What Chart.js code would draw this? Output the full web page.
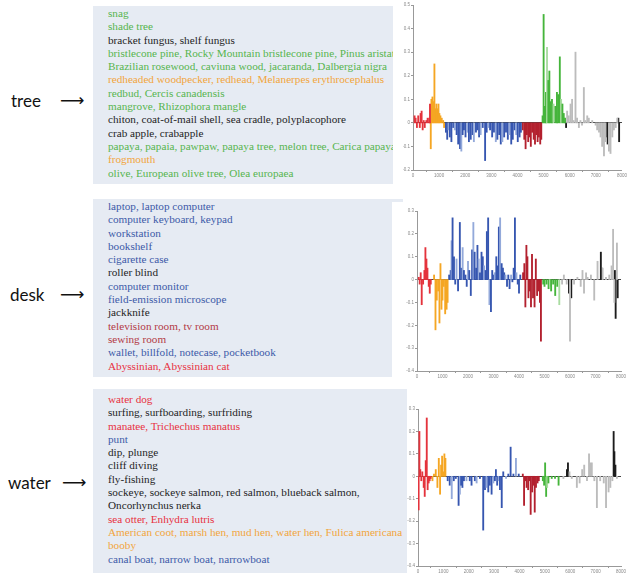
<!DOCTYPE html>
<html>
<head>
<meta charset="utf-8">
<script src="https://cdn.jsdelivr.net/npm/chart.js@4"></script>
<style>
    html, body { margin: 0; padding: 0; background: #fff; }
    #page { position: relative; width: 628px; height: 573px; overflow: hidden; }
    .word { position: absolute; font-family: Lato, "Open Sans", sans-serif; font-size: 17px; color: #111; line-height: 20px; }
    .arrow { position: absolute; font-family: "DejaVu Sans", sans-serif; font-size: 17px; color: #111; line-height: 20px; }
    .box { position: absolute; background: #e6ebf3; overflow: hidden; white-space: nowrap;
           font-family: "Liberation Serif", "Times New Roman", serif; font-size: 11.2px; line-height: 13.3px; }
    .box div { padding-left: 15px; }
    canvas { position: absolute; background: #fff; }
</style>
</head>
<body>
<div id="page">
    <div class="word" style="left:11px; top:91px;">tree</div>
    <div class="arrow" style="left:60px; top:90px;">⟶</div>
    <div class="word" style="left:10px; top:285px;">desk</div>
    <div class="arrow" style="left:60px; top:284px;">⟶</div>
    <div class="word" style="left:8px; top:473px;">water</div>
    <div class="arrow" style="left:62px; top:472px;">⟶</div>

    <div class="box" id="box-tree" style="left:93px; top:6px; width:300px; height:177px; padding-top:1px;"></div>
    <div class="box" id="box-desk" style="left:93px; top:199px; width:310px; height:177px; padding-top:1px;"></div>
    <div class="box" id="box-water" style="left:93px; top:389px; width:314px; height:184px; padding-top:4px;"></div>

    <canvas id="chart-tree" width="225" height="195" style="left:403px; top:0px;"></canvas>
    <canvas id="chart-desk" width="236" height="183" style="left:392px; top:202px;"></canvas>
    <canvas id="chart-water" width="221" height="184" style="left:407px; top:389px;"></canvas>
</div>

<script>
// term lists, each entry is [text, group]
const treeTerms = [
    ['snag', 'green'], ['shade tree', 'green'], ['bracket fungus, shelf fungus', 'black'],
    ['bristlecone pine, Rocky Mountain bristlecone pine, Pinus aristata', 'green'],
    ['Brazilian rosewood, caviuna wood, jacaranda, Dalbergia nigra', 'green'],
    ['redheaded woodpecker, redhead, Melanerpes erythrocephalus', 'orange'],
    ['redbud, Cercis canadensis', 'green'], ['mangrove, Rhizophora mangle', 'green'],
    ['chiton, coat-of-mail shell, sea cradle, polyplacophore', 'black'],
    ['crab apple, crabapple', 'black'],
    ['papaya, papaia, pawpaw, papaya tree, melon tree, Carica papaya', 'green'],
    ['frogmouth', 'orange'], ['olive, European olive tree, Olea europaea', 'green']
];
const deskTerms = [
    ['laptop, laptop computer', 'blue'], ['computer keyboard, keypad', 'blue'], ['workstation', 'blue'],
    ['bookshelf', 'blue'], ['cigarette case', 'blue'], ['roller blind', 'black'],
    ['computer monitor', 'blue'], ['field-emission microscope', 'blue'], ['jackknife', 'black'],
    ['television room, tv room', 'darkred'], ['sewing room', 'darkred'],
    ['wallet, billfold, notecase, pocketbook', 'blue'], ['Abyssinian, Abyssinian cat', 'red']
];
const waterTerms = [
    ['water dog', 'red'], ['surfing, surfboarding, surfriding', 'black'],
    ['manatee, Trichechus manatus', 'red'], ['punt', 'blue'], ['dip, plunge', 'black'],
    ['cliff diving', 'black'], ['fly-fishing', 'black'],
    ['sockeye, sockeye salmon, red salmon, blueback salmon,', 'black'], ['Oncorhynchus nerka', 'black'],
    ['sea otter, Enhydra lutris', 'red'],
    ['American coot, marsh hen, mud hen, water hen, Fulica americana', 'orange'],
    ['booby', 'orange'], ['canal boat, narrow boat, narrowboat', 'blue']
];

// bar data per colour group: [position, value]
const treeRed = [[60,0.03],[100,0.02],[150,-0.02],[200,0.03],[260,-0.02],[290,0.04],[330,0.05],[370,-0.03],[410,0.01],[450,-0.02],[510,0.01],[560,0.02],[620,0.02],[650,0.08]];
const treeOrange = [[680,-0.11],[705,0.10],[745,0.11],[780,0.09],[820,0.25],[860,0.06],[895,0.08],[935,0.06],[975,0.08],[1010,0.04],[1050,0.03],[1100,0.02],[1155,0.01],[1190,-0.02]];
const treeBlue = [[1260,-0.04],[1310,-0.07],[1360,-0.03],[1410,-0.06],[1470,-0.08],[1540,-0.02],[1600,-0.03],[1670,-0.05],[1730,-0.09],[1800,-0.11],[1850,-0.12],[1900,-0.05],[1950,-0.03],[2010,-0.06],[2080,-0.04],[2140,-0.08],[2210,-0.07],[2280,-0.05],[2330,-0.08],[2410,-0.04],[2460,-0.03],[2530,-0.06],[2590,-0.05],[2670,-0.02],[2760,-0.16],[2820,-0.04],[2890,-0.02],[2950,-0.03],[3030,-0.06],[3100,-0.04],[3170,-0.08],[3230,-0.07],[3300,-0.05],[3360,-0.09],[3420,-0.08],[3490,-0.06],[3560,-0.04],[3630,-0.07],[3690,-0.05],[3760,-0.09],[3820,-0.07],[3890,-0.03],[3950,-0.05],[4010,-0.08],[4080,-0.06],[4130,-0.04]];
const treeDarkRed = [[4200,-0.03],[4260,-0.07],[4310,-0.11],[4360,-0.05],[4410,-0.08],[4460,-0.06],[4510,-0.10],[4560,-0.04],[4620,-0.07],[4670,-0.09],[4720,-0.05],[4770,-0.08],[4820,-0.06],[4870,-0.09],[4910,-0.07]];
const treeGreen = [[4960,0.03],[5000,0.46],[5050,0.07],[5090,0.13],[5130,0.32],[5180,0.18],[5220,0.22],[5260,0.09],[5320,0.10],[5380,0.08],[5450,0.07],[5510,0.13],[5560,0.12],[5620,0.28],[5670,0.10],[5720,0.08],[5770,0.04],[5820,0.02]];
const treeGray = [[5900,0.05],[5960,0.03],[6030,0.08],[6090,0.10],[6150,0.01],[6220,0.30],[6280,0.02],[6350,-0.02],[6410,0.01],[6470,-0.01],[6540,0.15],[6600,0.01],[6670,0.03],[6730,0.02],[6860,0.01],[6990,-0.01],[7050,-0.03],[7120,-0.04],[7180,-0.06],[7240,-0.10],[7310,-0.14],[7370,-0.08],[7500,-0.12],[7560,-0.13],[7630,-0.06],[7690,-0.03],[7760,-0.02],[7820,0.02]];
const treeBlack = [[5860,-0.02],[7410,-0.06],[7450,-0.09],[7860,0.02],[7890,-0.08]];

const deskRed = [[70,0.01],[105,-0.02],[145,0.03],[185,-0.11],[240,-0.02],[290,0.04],[330,0.14],[370,0.09],[410,0.05],[460,-0.03],[500,-0.06],[540,-0.02]];
const deskOrange = [[670,0.02],[725,-0.22],[775,-0.09],[830,-0.05],[880,-0.19],[920,0.07],[960,-0.13],[1000,-0.09],[1050,-0.03],[1105,-0.15],[1160,-0.13],[1200,-0.10]];
const deskBlue = [[1260,0.02],[1320,0.04],[1355,0.17],[1395,0.27],[1450,0.10],[1500,-0.02],[1550,0.09],[1610,-0.05],[1680,0.25],[1740,0.05],[1790,0.14],[1840,0.04],[1900,0.02],[1950,-0.03],[2000,0.08],[2050,0.04],[2110,-0.07],[2160,0.13],[2210,0.25],[2260,0.12],[2320,0.05],[2370,0.15],[2420,0.09],[2470,0.03],[2530,0.12],[2580,0.10],[2630,0.06],[2690,0.04],[2740,0.21],[2790,0.27],[2840,-0.11],[2900,-0.14],[2950,0.04],[3000,0.02],[3050,0.03],[3110,0.10],[3160,0.06],[3210,0.23],[3260,0.27],[3320,0.07],[3370,0.05],[3420,0.03],[3470,0.02],[3530,-0.03],[3580,0.02],[3630,-0.04],[3690,0.02],[3740,-0.01],[3790,0.05],[3840,0.27],[3900,0.03],[3950,-0.02],[4000,-0.06],[4050,0.02]];
const deskDarkRed = [[4160,0.03],[4210,0.07],[4250,-0.12],[4290,0.15],[4330,0.10],[4370,-0.08],[4420,-0.05],[4470,-0.12],[4510,0.11],[4550,-0.08],[4610,-0.12],[4660,0.09],[4710,-0.07],[4760,-0.05],[4820,-0.10],[4860,-0.27]];
const deskGreen = [[4950,-0.02],[5000,-0.03],[5080,-0.02],[5160,-0.04],[5210,-0.03],[5260,-0.05],[5340,-0.02],[5420,-0.07],[5500,-0.03],[5580,-0.11]];
const deskGray = [[5690,-0.02],[5760,0.02],[5870,-0.02],[6000,-0.27],[6160,-0.02],[6290,0.01],[6420,-0.03],[6490,0.04],[6550,-0.06],[6630,0.03],[6690,0.01],[6820,0.02],[6950,-0.09],[7080,0.08],[7280,0.05],[7410,0.01],[7540,0.02],[7630,0.06],[7690,0.22],[7740,-0.10],[7840,0.16]];
const deskBlack = [[5960,-0.06],[6050,-0.08],[7210,0.12],[7250,0.05],[7760,0.04],[7790,-0.17],[7870,-0.08]];

const waterRed = [[25,-0.15],[55,0.20],[90,0.03],[130,-0.02],[170,0.02],[225,-0.05],[265,-0.09],[305,0.07],[345,0.26],[380,-0.06],[420,-0.03],[460,-0.02],[500,-0.01]];
const waterOrange = [[570,-0.02],[630,0.01],[700,0.03],[765,-0.05],[820,0.08],[870,-0.08],[910,0.05],[950,0.09],[1000,0.02],[1040,0.10],[1080,0.08]];
const waterBlue = [[1170,-0.02],[1250,-0.04],[1330,-0.10],[1410,-0.02],[1490,-0.01],[1600,-0.13],[1650,-0.08],[1700,-0.04],[1750,-0.05],[1810,-0.02],[1910,-0.02],[2040,-0.02],[2110,-0.04],[2240,-0.02],[2310,-0.03],[2440,-0.01],[2570,-0.24],[2640,-0.06],[2700,-0.05],[2770,-0.07],[2830,-0.04],[2900,-0.08],[2970,-0.03],[3030,-0.02],[3070,0.03],[3120,-0.04],[3180,-0.02],[3230,-0.06],[3300,-0.14],[3360,0.02],[3470,-0.01],[3560,0.01],[3650,0.13],[3760,0.01],[3860,0.08],[3970,0.01]];
const waterDarkRed = [[4130,0.01],[4180,-0.13],[4230,-0.02],[4280,-0.05],[4340,-0.06],[4390,-0.02],[4440,-0.17],[4500,-0.07],[4550,-0.04],[4600,-0.16],[4650,-0.05],[4710,-0.03],[4760,-0.02]];
const waterGreen = [[4920,-0.02],[4970,-0.04],[5010,0.06],[5050,-0.09],[5090,-0.05],[5140,-0.03],[5270,-0.01],[5400,-0.01],[5540,-0.04]];
const waterGray = [[5730,-0.01],[5970,0.02],[6060,-0.01],[6260,-0.05],[6370,-0.03],[6470,0.03],[6550,0.05],[6660,-0.02],[6740,0.10],[6790,0.06],[6850,0.06],[6950,-0.02],[7050,-0.14],[7180,-0.02],[7320,-0.03],[7410,-0.14],[7510,-0.07],[7580,-0.05],[7660,-0.02],[7840,-0.01]];
const waterBlack = [[5870,0.03],[5910,0.06],[7710,0.20],[7740,0.11],[7780,0.05]];

const xTicks = [0, 1000, 2000, 3000, 4000, 5000, 6000, 7000, 8000];

const textColors = { green: '#56b54e', black: '#1e1e1e', orange: '#f2a53c', blue: '#3d5aa8', darkred: '#b33945', red: '#e8313f' };
const barColors = { red: '#e4333c', orange: '#f5a623', blue: '#3656b0', lightBlue: '#93a9da', darkRed: '#b3202e',
                    green: '#45b53b', lightGreen: '#a8dca0', gray: '#bcbcbc', black: '#1c1c1c' };

const fillBox = (id, terms) => {
    document.getElementById(id).innerHTML = terms.map(([text, group]) =>
        `<div style="color:${textColors[group]}">${text}</div>`).join('');
};

const toPoints = (pairs) => pairs.map(([x, y]) => ({ x, y }));

const makeChart = (id, groups, yMin, yMax, box) => {
    const datasets = [
        { data: toPoints(groups.red), backgroundColor: barColors.red },
        { data: toPoints(groups.orange), backgroundColor: barColors.orange },
        { data: toPoints(groups.blue), backgroundColor: ctx => ctx.dataIndex % 4 === 2 ? barColors.lightBlue : barColors.blue },
        { data: toPoints(groups.darkRed), backgroundColor: barColors.darkRed },
        { data: toPoints(groups.green), backgroundColor: ctx => ctx.dataIndex % 5 === 4 ? barColors.lightGreen : barColors.green },
        { data: toPoints(groups.gray), backgroundColor: barColors.gray },
        { data: toPoints(groups.black), backgroundColor: barColors.black }
    ];

    new Chart(document.getElementById(id).getContext('2d'), {
        type: 'bar',
        data: { datasets },
        options: {
            responsive: false,
            animation: false,
            layout: { padding: { top: box.top, right: box.right, left: 0, bottom: 0 } },
            plugins: { legend: { display: false }, tooltip: { enabled: false } },
            datasets: { bar: { grouped: false, barThickness: 1.2 } },
            scales: {
                x: {
                    type: 'linear', min: 0, max: 8000, offset: false,
                    afterBuildTicks: scale => { scale.ticks = xTicks.map(value => ({ value })); },
                    afterFit: scale => { scale.height = box.xHeight; },
                    border: { color: '#999' },
                    grid: { drawOnChartArea: false, tickLength: 2, tickColor: '#999' },
                    ticks: { font: { size: 4.5, family: 'Arial' }, color: '#888', padding: 1, maxRotation: 0, autoSkip: false,
                             callback: v => String(v) }
                },
                y: {
                    min: yMin, max: yMax,
                    afterFit: scale => { scale.width = box.yWidth; },
                    border: { color: '#999' },
                    grid: {
                        tickLength: 2, tickColor: '#999',
                        color: ctx => ctx.tick && Math.abs(ctx.tick.value) < 1e-9 ? '#444' : 'rgba(0,0,0,0)'
                    },
                    ticks: {
                        stepSize: 0.1, font: { size: 4.5, family: 'Arial' }, color: '#888', padding: 1,
                        callback: v => String(Math.round(v * 10) / 10)
                    }
                }
            }
        }
    });
};

fillBox('box-tree', treeTerms);
fillBox('box-desk', deskTerms);
fillBox('box-water', waterTerms);

makeChart('chart-tree',
    { red: treeRed, orange: treeOrange, blue: treeBlue, darkRed: treeDarkRed, green: treeGreen, gray: treeGray, black: treeBlack },
    -0.2, 0.5, { top: 5, right: 6, xHeight: 25, yWidth: 10 });
makeChart('chart-desk',
    { red: deskRed, orange: deskOrange, blue: deskBlue, darkRed: deskDarkRed, green: deskGreen, gray: deskGray, black: deskBlack },
    -0.4, 0.3, { top: 9, right: 7, xHeight: 14, yWidth: 25 });
makeChart('chart-water',
    { red: waterRed, orange: waterOrange, blue: waterBlue, darkRed: waterDarkRed, green: waterGreen, gray: waterGray, black: waterBlack },
    -0.4, 0.3, { top: 20, right: 7, xHeight: 7, yWidth: 11 });
</script>
</body>
</html>
